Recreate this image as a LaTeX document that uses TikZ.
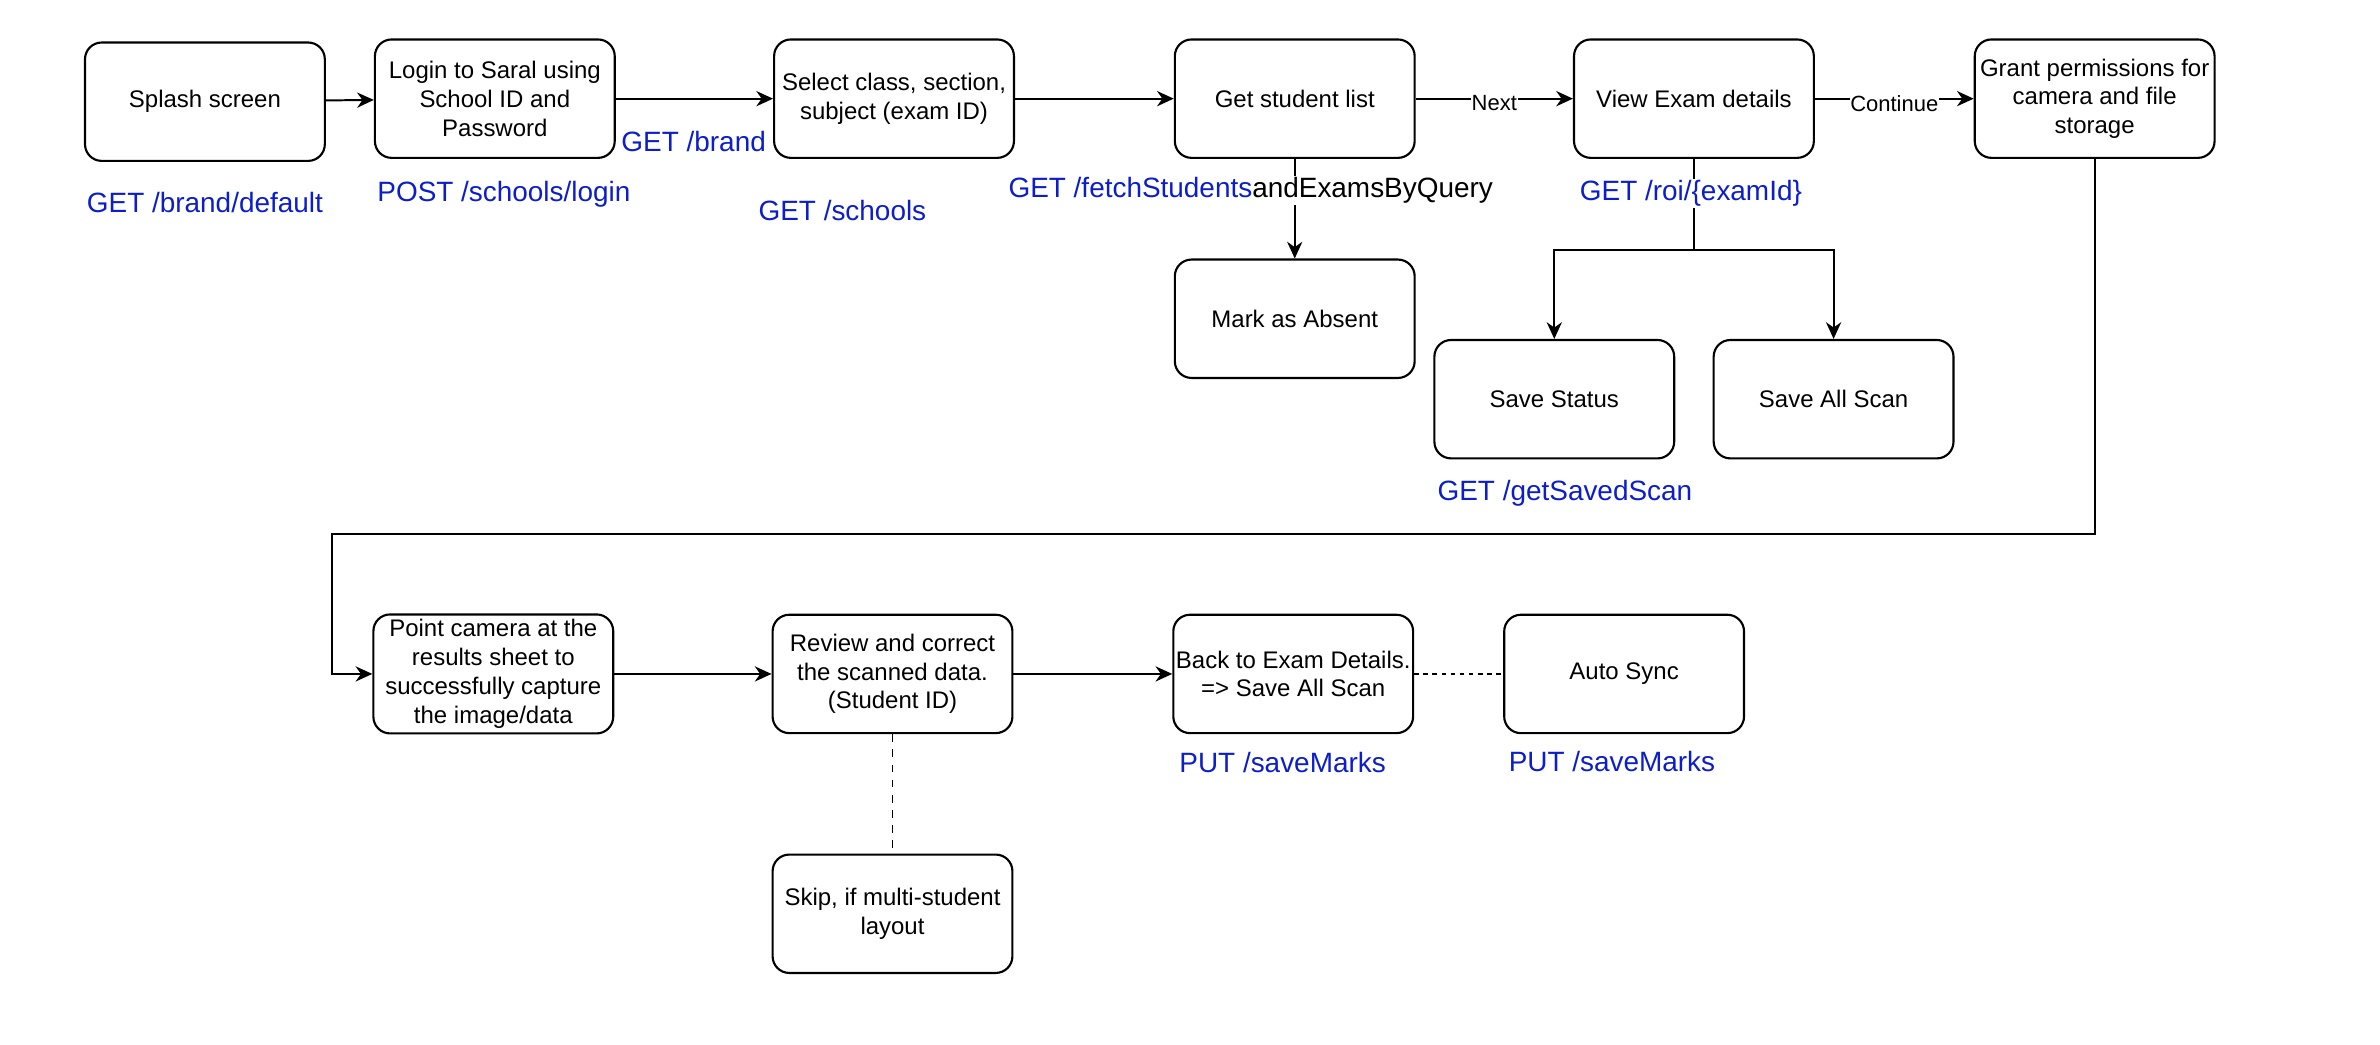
\documentclass[tikz,border=0pt]{standalone}
\usepackage{fontspec}
\setmainfont{Liberation Sans}
\usetikzlibrary{arrows.meta,positioning}
\definecolor{apiblue}{RGB}{12,30,204}

\begin{document}
\begin{tikzpicture}[x=1pt,y=-1pt,
	box/.style={rectangle,draw,line width=1.4pt,rounded corners=11pt,minimum width=158pt,minimum height=78pt,inner xsep=1pt,align=center,font=\fontsize{15.8}{19}\selectfont},
	api/.style={anchor=base,text=apiblue,inner sep=1pt,font=\fontsize{18.4}{22}\selectfont},
	flow/.style={line width=1.3pt,-{Stealth[length=11pt,width=10pt,inset=3.5pt]}},
	note/.style={fill=white,inner sep=0.5pt,yshift=-3pt,font=\fontsize{14.5}{17}\selectfont}]
	\useasboundingbox (0,0) rectangle (1568,688);
	\node [box] (splash) at (135,67) {Splash screen};
	\node [box] (login) at (326,65) {Login to Saral using\\School ID and\\Password};
	\node [box] (select) at (589,65) {Select class, section,\\subject (exam ID)};
	\node [box] (students) at (853,65) {Get student list};
	\node [box] (exam) at (1116,65) {View Exam details};
	\node [box] (grant) at (1380,65) {Grant permissions for\\camera and file\\storage};
	\node [box] (absent) at (853,210) {Mark as Absent};
	\node [box] (status) at (1024,263) {Save Status};
	\node [box] (allscan) at (1208,263) {Save All Scan};
	\node [box] (camera) at (325,444) {Point camera at the\\results sheet to\\successfully capture\\the image/data};
	\node [box] (review) at (588,444) {Review and correct\\the scanned data.\\(Student ID)};
	\node [box] (back) at (852,444) {Back to Exam Details.\\=> Save All Scan};
	\node [box] (sync) at (1070,444) {Auto Sync};
	\node [box] (skip) at (588,602) {Skip, if multi-student\\layout};
	\coordinate (fork) at (1116,165);
	\coordinate (bend) at (219,352);

	\draw [flow] (splash) -- (login);
	\draw [flow] (login) -- (select);
	\draw [flow] (select) -- (students);
	\draw [flow] (students) -- node [note] {Next} (exam);
	\draw [flow] (exam) -- node [note] {Continue} (grant);
	\draw [flow] (students) -- (absent);
	\draw [line width=1.3pt] (exam) -- (fork);
	\draw [flow] (fork) -| (status.north);
	\draw [flow] (fork) -| (allscan.north);
	\draw [flow] (grant.south) |- (bend) |- (camera.west);
	\draw [flow] (camera) -- (review);
	\draw [flow] (review) -- (back);
	\draw [line width=1.3pt,dash pattern=on 3pt off 3pt] (back) -- (sync);
	\draw [line width=1pt,dash pattern=on 5pt off 5pt] (review) -- (skip);

	\node [api] (brandDefault) at (135,140) {GET /brand/default};
	\node [api] (schoolsLogin) at (332,133) {POST /schools/login};
	\node [api] (brand) at (457,100) {GET /brand};
	\node [api] (schools) at (555,145) {GET /schools};
	\node [api,text=black,fill=white] (fetch) at (824,130) {\textcolor{apiblue}{GET /fetchStudents}andExamsByQuery};
	\node [api,fill=white] (roi) at (1114,132) {GET /roi/\{examId\}};
	\node [api] (savedScan) at (1031,330) {GET /getSavedScan};
	\node [api] (saveMarks) at (845,509) {PUT /saveMarks};
	\node [api] (syncMarks) at (1062,508) {PUT /saveMarks};
\end{tikzpicture}
\end{document}
